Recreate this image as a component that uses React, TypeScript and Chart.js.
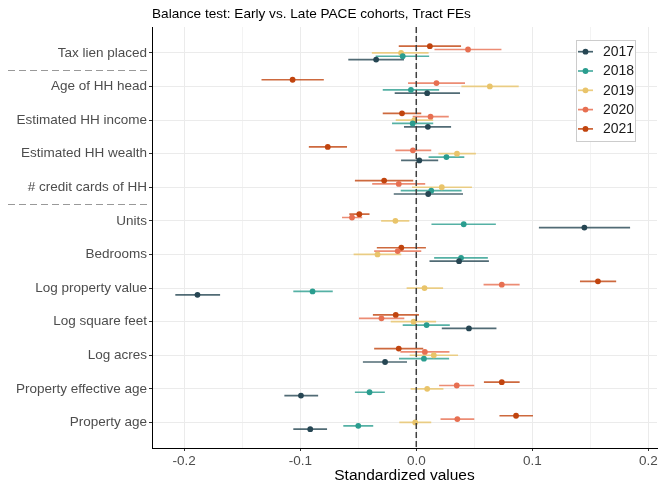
import React, { useEffect, useRef } from 'react';
import { Chart, registerables } from 'chart.js';
Chart.register(...registerables);

const FONT = '"Liberation Sans", Arial, Helvetica, sans-serif';

const titleText = 'Balance test: Early vs. Late PACE cohorts, Tract FEs';
const xAxisTitle = 'Standardized values';

const categories = [
  'Tax lien placed',
  'Age of HH head',
  'Estimated HH income',
  'Estimated HH wealth',
  '# credit cards of HH',
  'Units',
  'Bedrooms',
  'Log property value',
  'Log square feet',
  'Log acres',
  'Property effective age',
  'Property age',
];
const separatorsAfter = [0, 4];

const cohorts = ['2017', '2018', '2019', '2020', '2021'];
const colors = ['#264653', '#2A9D8F', '#E9C46A', '#E76F51', '#C1440E'];

const xTickLabels = [-0.2, -0.1, 0, 0.1, 0.2];
const xGrid = [-0.2, -0.15, -0.1, -0.05, 0, 0.05, 0.1, 0.15, 0.2];

const est2017 = [-0.0346, 0.0094, 0.0100, 0.0026, 0.0103, 0.1449, 0.0369, -0.1886, 0.0454, -0.0269, -0.0994, -0.0914];
const lo2017 = [-0.0586, -0.0186, -0.0106, -0.0131, -0.0194, 0.1057, 0.0114, -0.2077, 0.0220, -0.0460, -0.1137, -0.1060];
const hi2017 = [-0.0106, 0.0377, 0.0300, 0.0189, 0.0403, 0.1843, 0.0626, -0.1691, 0.0691, -0.0080, -0.0846, -0.0769];

const est2018 = [-0.0117, -0.0046, -0.0031, 0.0260, 0.0129, 0.0409, 0.0386, -0.0894, 0.0089, 0.0066, -0.0403, -0.0500];
const lo2018 = [-0.0350, -0.0289, -0.0209, 0.0106, -0.0134, 0.0131, 0.0154, -0.1060, -0.0117, -0.0149, -0.0529, -0.0629];
const hi2018 = [0.0111, 0.0197, 0.0146, 0.0414, 0.0391, 0.0686, 0.0617, -0.0720, 0.0289, 0.0283, -0.0271, -0.0371];

const est2019 = [-0.0131, 0.0634, -0.0017, 0.0351, 0.0220, -0.0180, -0.0334, 0.0071, -0.0023, 0.0151, 0.0094, -0.0009];
const lo2019 = [-0.0383, 0.0389, -0.0177, 0.0191, -0.0037, -0.0303, -0.0540, -0.0083, -0.0220, -0.0057, -0.0049, -0.0146];
const hi2019 = [0.0106, 0.0883, 0.0146, 0.0514, 0.0480, -0.0060, -0.0129, 0.0231, 0.0171, 0.0360, 0.0234, 0.0129];

const est2020 = [0.0446, 0.0174, 0.0123, -0.0029, -0.0151, -0.0554, -0.0160, 0.0737, -0.0300, 0.0074, 0.0349, 0.0354];
const lo2020 = [0.0157, -0.0071, -0.0031, -0.0180, -0.0380, -0.0640, -0.0363, 0.0580, -0.0494, -0.0137, 0.0197, 0.0209];
const hi2020 = [0.0734, 0.0420, 0.0280, 0.0129, 0.0077, -0.0466, 0.0043, 0.0891, -0.0103, 0.0286, 0.0500, 0.0500];

const est2021 = [0.0117, -0.1066, -0.0123, -0.0763, -0.0277, -0.0491, -0.0129, 0.1566, -0.0177, -0.0151, 0.0737, 0.0860];
const lo2021 = [-0.0151, -0.1334, -0.0289, -0.0926, -0.0529, -0.0577, -0.0340, 0.1411, -0.0374, -0.0363, 0.0583, 0.0717];
const hi2021 = [0.0386, -0.0797, 0.0043, -0.0597, -0.0026, -0.0403, 0.0083, 0.1723, 0.0023, 0.0060, 0.0891, 0.1006];

const estimates = [est2017, est2018, est2019, est2020, est2021];
const lows = [lo2017, lo2018, lo2019, lo2020, lo2021];
const highs = [hi2017, hi2018, hi2019, hi2020, hi2021];

function withAlpha(hex: string, a: number) {
  const n = parseInt(hex.slice(1), 16);
  return `rgba(${(n >> 16) & 255},${(n >> 8) & 255},${n & 255},${a})`;
}

const isMajor = (v: number) => xTickLabels.some((t) => Math.abs(t - v) < 1e-9);

export default function App() {
  const ref = useRef<HTMLCanvasElement | null>(null);

  useEffect(() => {
    if (!ref.current) return;
    const dodge = (i: number) => (2 - i) * 0.1;

    const datasets: any[] = [];
    cohorts.forEach((c, i) => {
      const lineData: any[] = [];
      categories.forEach((_, k) => {
        lineData.push({ x: lows[i][k], y: k + dodge(i) });
        lineData.push({ x: highs[i][k], y: k + dodge(i) });
        lineData.push({ x: null, y: null });
      });
      datasets.push({
        type: 'line',
        label: c + ' CI',
        data: lineData,
        borderColor: withAlpha(colors[i], 0.8),
        borderWidth: 1.7,
        pointRadius: 0,
        spanGaps: false,
        fill: false,
        order: 2,
      });
    });
    cohorts.forEach((c, i) => {
      datasets.push({
        type: 'scatter',
        label: c,
        data: categories.map((_, k) => ({ x: estimates[i][k], y: k + dodge(i) })),
        backgroundColor: colors[i],
        borderColor: colors[i],
        borderWidth: 0,
        pointRadius: 2.9,
        order: 1,
      });
    });

    const decor = {
      id: 'decor',
      afterDatasetsDraw(chart: any) {
        const { ctx, chartArea, scales } = chart;
        const x0 = scales.x.getPixelForValue(0);
        ctx.save();
        ctx.strokeStyle = '#404040';
        ctx.lineWidth = 1.5;
        ctx.setLineDash([6, 3]);
        ctx.beginPath();
        ctx.moveTo(x0, chartArea.top);
        ctx.lineTo(x0, chartArea.bottom);
        ctx.stroke();
        ctx.restore();
      },
      afterDraw(chart: any) {
        const { ctx, chartArea, scales } = chart;
        ctx.save();
        // title
        ctx.fillStyle = '#000';
        ctx.font = `13.6px ${FONT}`;
        ctx.textAlign = 'left';
        ctx.textBaseline = 'middle';
        ctx.fillText(titleText, chartArea.left, 14.5);
        // x axis title
        ctx.font = `15.5px ${FONT}`;
        ctx.textAlign = 'center';
        ctx.fillText(xAxisTitle, (chartArea.left + chartArea.right) / 2, 476);
        // separators
        ctx.strokeStyle = '#999999';
        ctx.lineWidth = 1.1;
        ctx.setLineDash([7, 4]);
        separatorsAfter.forEach((k) => {
          const y = Math.round(scales.y.getPixelForValue(k + 0.5)) + 0.5;
          ctx.beginPath();
          ctx.moveTo(8, y);
          ctx.lineTo(149, y);
          ctx.stroke();
        });
        ctx.setLineDash([]);
        // legend
        const bx = 576.5, by = 40.5, bw = 59, bh = 101;
        ctx.fillStyle = '#fff';
        ctx.fillRect(bx, by, bw, bh);
        ctx.strokeStyle = '#cccccc';
        ctx.lineWidth = 1;
        ctx.strokeRect(bx, by, bw, bh);
        ctx.font = `14px ${FONT}`;
        ctx.textAlign = 'left';
        ctx.textBaseline = 'middle';
        cohorts.forEach((c, i) => {
          const y = 51.7 + i * 19.3;
          ctx.strokeStyle = withAlpha(colors[i], 0.85);
          ctx.lineWidth = 1.7;
          ctx.beginPath();
          ctx.moveTo(578, y);
          ctx.lineTo(593, y);
          ctx.stroke();
          ctx.fillStyle = colors[i];
          ctx.beginPath();
          ctx.arc(585.5, y, 2.9, 0, Math.PI * 2);
          ctx.fill();
          ctx.fillStyle = '#1a1a1a';
          ctx.fillText(c, 603, y + 0.5);
        });
        ctx.restore();
      },
    };

    const chart = new Chart(ref.current, {
      type: 'scatter',
      data: { datasets },
      options: {
        animation: false,
        responsive: false,
        maintainAspectRatio: false,
        layout: { padding: { top: 27, right: 2, left: 0, bottom: 0 } },
        plugins: { legend: { display: false }, tooltip: { enabled: false }, title: { display: false } },
        scales: {
          x: {
            type: 'linear',
            min: -0.2278,
            max: 0.2075,
            afterBuildTicks: (s: any) => {
              s.ticks = xGrid.map((v) => ({ value: v }));
            },
            afterFit: (s: any) => {
              s.height = 35;
            },
            ticks: {
              autoSkip: false,
              maxRotation: 0,
              padding: 2,
              color: '#4d4d4d',
              font: { family: FONT, size: 13.5 },
              callback: (v: any) => (isMajor(Number(v)) ? Number(v).toFixed(1) : ''),
            },
            grid: {
              color: '#ebebeb',
              lineWidth: (ctx: any) => (isMajor(ctx.tick?.value ?? 0) ? 1 : 0.6),
              tickLength: 3,
              tickColor: (ctx: any) => (isMajor(ctx.tick?.value ?? 0) ? '#333333' : 'rgba(0,0,0,0)'),
            },
            border: { display: true, color: '#000', width: 1 },
          },
          y: {
            type: 'linear',
            min: -0.77,
            max: 11.76,
            reverse: true,
            afterBuildTicks: (s: any) => {
              s.ticks = categories.map((_, k) => ({ value: k }));
            },
            afterFit: (s: any) => {
              s.width = 152;
            },
            ticks: {
              autoSkip: false,
              padding: 2,
              color: '#4d4d4d',
              font: { family: FONT, size: 13.5 },
              callback: (v: any) => categories[Number(v)] ?? '',
            },
            grid: { color: '#ebebeb', lineWidth: 1, tickLength: 3, tickColor: '#333333' },
            border: { display: true, color: '#000', width: 1 },
          },
        },
      },
      plugins: [decor],
    } as any);
    return () => chart.destroy();
  }, []);

  return (
    <div style={{ position: 'absolute', left: 0, top: 0, width: 661, height: 483, background: '#fff' }}>
      <canvas ref={ref} width={661} height={483} style={{ width: 661, height: 483, display: 'block' }} />
    </div>
  );
}
